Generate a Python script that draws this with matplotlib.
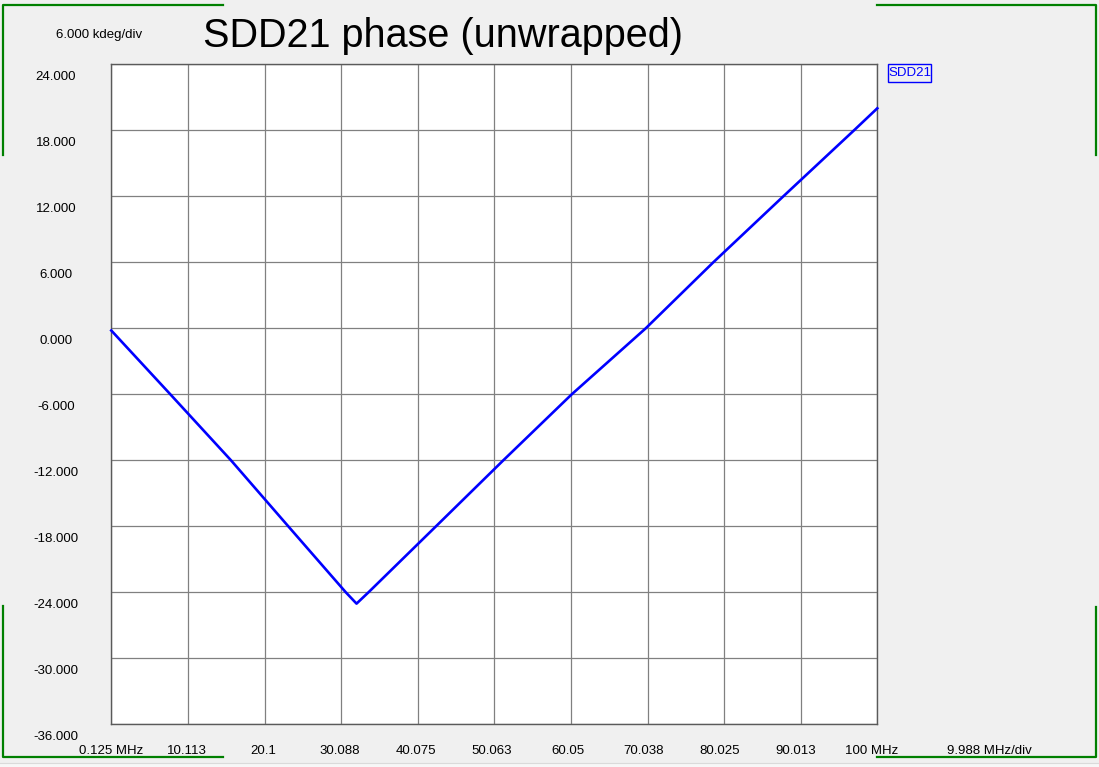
import matplotlib
matplotlib.use("Agg")
import matplotlib.pyplot as plt
import matplotlib.transforms as mtransforms
from matplotlib.lines import Line2D
from matplotlib.patches import Rectangle

# trace (MHz, kdeg)
freq_mhz = [0.125, 7.82, 15.73, 23.20, 30.7, 32.1, 33.66, 42.46, 51.24,
            60.16, 69.81, 78.62, 87.75, 96.97, 100.0]
phase_kdeg = [-0.2, -6.0, -12.0, -18.0, -24.0, -25.03, -24.0, -18.0, -12.0,
              -6.0, 0.0, 6.0, 12.0, 18.0, 20.0]

y_ticks = [24, 18, 12, 6, 0, -6, -12, -18, -24, -30, -36]
y_labels = ["24.000", "18.000", "12.000", "6.000", "0.000", "-6.000",
            "-12.000", "-18.000", "-24.000", "-30.000", "-36.000"]
x_ticks = [0.125, 10.1125, 20.1, 30.0875, 40.075, 50.0625, 60.05,
           70.0375, 80.025, 90.0125, 100.0]
x_labels = ["0.125 MHz", "10.113", "20.1", "30.088", "40.075", "50.063",
            "60.05", "70.038", "80.025", "90.013", "100 MHz"]

W, H = 1099, 767
plt.rcParams['font.family'] = ['Liberation Sans', 'DejaVu Sans']

fig = plt.figure(figsize=(W / 100, H / 100), dpi=100)
fig.patch.set_facecolor('#f0f0f0')

# plot box in pixels
left, right, top, bottom = 111.3, 877.3, 64.3, 724.3
ax = fig.add_axes([left / W, (H - bottom) / H, (right - left) / W, (bottom - top) / H])
ax.set_facecolor('white')
ax.set_xlim(x_ticks[0], x_ticks[-1])
ax.set_ylim(-36, 24)
ax.set_xticks(x_ticks)
ax.set_yticks(y_ticks)
ax.tick_params(length=0, labelbottom=False, labelleft=False)
ax.grid(True, color='#808080', lw=0.9)
for sp in ax.spines.values():
    sp.set_color('#5a5a5a')
    sp.set_linewidth(1.0)

ax.plot(freq_mhz, phase_kdeg, color='#0000ff', lw=1.9, clip_on=False, zorder=3)

# y labels: centred left of the box, a bit below each grid line
ytr = mtransforms.blended_transform_factory(fig.transFigure, ax.transData)
ytr = mtransforms.offset_copy(ytr, fig=fig, x=0, y=-12.4 * 72 / 100, units='points')
for v, s in zip(y_ticks, y_labels):
    ax.text(56 / W, v, s, transform=ytr, ha='center', va='center',
            fontsize=9.5, clip_on=False)

# x labels under the box
for i, (v, s) in enumerate(zip(x_ticks, x_labels)):
    xtr = mtransforms.blended_transform_factory(ax.transData, fig.transFigure)
    xtr = mtransforms.offset_copy(xtr, fig=fig, x=-0.55 * i * 72 / 100, y=0, units='points')
    ax.text(v, (H - 750.7) / H, s, transform=xtr, ha='center', va='center',
            fontsize=9.5, clip_on=False)

fig.text(989.5 / W, (H - 750.7) / H, "9.988 MHz/div", ha='center', va='center', fontsize=9.5)
fig.text(99 / W, (H - 35) / H, "6.000 kdeg/div", ha='center', va='center', fontsize=9.5)
fig.text(202.7 / W, (H - 46.7) / H, "SDD21 phase (unwrapped)", ha='left',
         va='baseline', fontsize=28.5)

# legend tag
fig.patches.append(Rectangle((888.3 / W, (H - 82.3) / H), 42.4 / W, 18 / H,
                             transform=fig.transFigure, fill=False,
                             edgecolor='#0000ff', lw=1.0))
fig.text(909.5 / W, (H - 73.3) / H, "SDD21", ha='center', va='center',
         fontsize=9.5, color='#0000ff')

# green corner brackets
def px_line(xs, ys):
    fig.lines.append(Line2D([x / W for x in xs], [(H - y) / H for y in ys],
                            transform=fig.transFigure, color='#008000', lw=1.6))

px_line([222.7, 3, 3], [5, 5, 155.3])
px_line([877, 1096.3, 1096.3], [5, 5, 155.3])
px_line([3, 3, 222.7], [606, 756.7, 756.7])
px_line([877, 1096, 1096], [756.7, 756.7, 606.7])

# status strip at the very bottom
fig.patches.append(Rectangle((0, 0), 1, (H - 762.5) / H, transform=fig.transFigure,
                             facecolor='#f7f7f7', edgecolor='none'))
fig.lines.append(Line2D([0, 1], [(H - 762.5) / H] * 2, transform=fig.transFigure,
                        color='#dadada', lw=0.8))

fig.savefig("out.png", dpi=100, facecolor=fig.get_facecolor())
